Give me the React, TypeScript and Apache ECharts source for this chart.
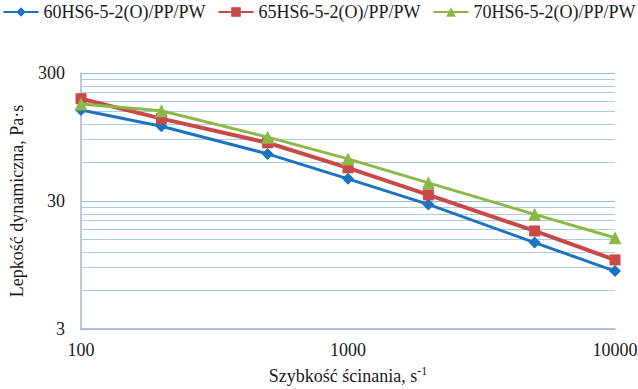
import React, { useEffect, useRef } from "react";
import * as echarts from "echarts";

// Shear rate, s^-1
const shearRates = [100, 200, 500, 1000, 2000, 5000, 10000];

// Dynamic viscosity, Pa·s
const seriesNames = ["60HS6-5-2(O)/PP/PW", "65HS6-5-2(O)/PP/PW", "70HS6-5-2(O)/PP/PW"];
const visc60 = [154, 115, 70, 44.7, 28.2, 14.2, 8.5];
const visc65 = [189, 132, 85.5, 54.5, 33.5, 17.5, 10.4];
const visc70 = [172, 152, 94.6, 64, 41.6, 23.6, 15.5];

// Logarithmic viscosity axis: decades starting at 3
const yBase = 3;
const yMajorTicks = [3, 30, 300];
const yMinorTicks = [6, 9, 12, 15, 18, 21, 24, 27, 60, 90, 120, 150, 180, 210, 240, 270];

const colors = ["#1C74C0", "#C84A48", "#8DB847"];
const symbols = ["diamond", "rect", "triangle"];
const symbolSizes = [12, 11, 13];
const lineWidths = [3, 4, 3];

const FONT = "Liberation Serif";

// decades above the base value
const toLog = (v: number) => Math.log10(v / yBase);

export default function App() {
  const ref = useRef<HTMLDivElement>(null);

  useEffect(() => {
    if (!ref.current) return;
    const chart = echarts.init(ref.current, null, { renderer: "svg" });
    const values = [visc60, visc65, visc70];

    const series = values.map((vals, i) => ({
      name: seriesNames[i],
      type: "line",
      data: shearRates.map((x, j) => [x, toLog(vals[j])]),
      symbol: symbols[i],
      symbolSize: symbolSizes[i],
      lineStyle: { color: colors[i], width: lineWidths[i] },
      itemStyle: { color: colors[i] },
      z: 3 + i,
      ...(i === 0
        ? {
            markLine: {
              silent: true,
              symbol: "none",
              z: 1,
              label: { show: false },
              lineStyle: { color: "#A9CBE3", width: 1, type: "solid" },
              data: yMinorTicks.map((v) => ({ yAxis: toLog(v) })),
            },
          }
        : {}),
    }));

    chart.setOption({
      animation: false,
      backgroundColor: "#ffffff",
      textStyle: { fontFamily: FONT },
      color: colors,
      legend: {
        top: 3,
        left: "center",
        width: 638,
        padding: 0,
        itemWidth: 35,
        itemHeight: 12,
        itemGap: 12,
        textStyle: { fontFamily: FONT, fontSize: 18, color: "#1a1a1a" },
        data: seriesNames,
      },
      grid: { left: 81, right: 23, top: 73, bottom: 60, outerBoundsMode: "none" },
      xAxis: {
        type: "log",
        logBase: 10,
        min: 100,
        max: 10000,
        name: "Szybkość ścinania, s{sup|-1}",
        nameLocation: "middle",
        nameGap: 36,
        nameTextStyle: {
          fontFamily: FONT,
          fontSize: 18,
          color: "#1a1a1a",
          rich: {
            sup: { fontFamily: FONT, fontSize: 12, verticalAlign: "top", padding: [0, 0, 10, 0], color: "#1a1a1a" },
          },
        },
        axisLine: { show: true, lineStyle: { color: "#A3B8CC", width: 1.5 } },
        axisTick: { show: false },
        splitLine: { show: false },
        axisLabel: {
          fontFamily: FONT,
          fontSize: 18,
          color: "#1a1a1a",
          margin: 12,
          formatter: (v: number) => String(Math.round(v)),
        },
      },
      yAxis: {
        type: "value",
        min: toLog(yMajorTicks[0]),
        max: toLog(yMajorTicks[yMajorTicks.length - 1]),
        interval: 1,
        name: "Lepkość dynamiczna, Pa·s",
        nameLocation: "middle",
        nameGap: 55,
        nameRotate: 90,
        nameTextStyle: { fontFamily: FONT, fontSize: 18, color: "#1a1a1a" },
        axisLine: { show: true, lineStyle: { color: "#A3B8CC", width: 1.5 } },
        axisTick: { show: false },
        splitLine: { show: true, lineStyle: { color: "#93BCD9", width: 1.2 } },
        axisLabel: {
          fontFamily: FONT,
          fontSize: 18,
          color: "#1a1a1a",
          margin: 16,
          formatter: (v: number) => String(Math.round(yBase * Math.pow(10, v))),
        },
      },
      series,
    });

    return () => chart.dispose();
  }, []);

  return (
    <div
      ref={ref}
      style={{ position: "fixed", left: 0, top: 0, width: 638, height: 389, background: "#fff" }}
    />
  );
}
